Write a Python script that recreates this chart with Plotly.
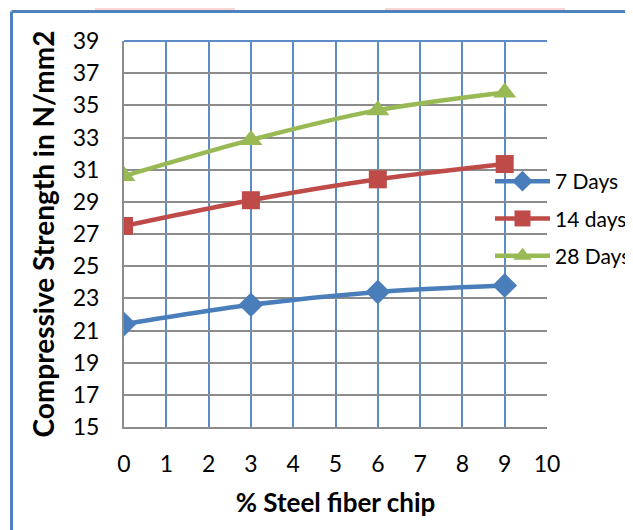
import plotly.graph_objects as go

x_vals = [0, 3, 6, 9]
days7 = [21.4, 22.6, 23.4, 23.8]
days14 = [27.5, 29.1, 30.4, 31.35]
days28 = [30.6, 32.85, 34.7, 35.8]
series_names = ["7 Days", "14 days", "28 Days"]
x_ticks = list(range(0, 11))
y_ticks = list(range(15, 40, 2))

FONT = "Lato, Carlito, Calibri, sans-serif"
OFF = 8  # page body margin offset of the figure in the screenshot
W, H = 633 - OFF, 530 - OFF
# plot area in screenshot pixels
L, R, T, B = 124, 547, 41, 427

def px(x):
    return (x - L) / (R - L)

def py(y):
    return (B - y) / (B - T)

fig = go.Figure()
styles = [
    (days7, "#4A7EBB", "diamond", 19),
    (days14, "#BE4B48", "square", 18),
    (days28, "#98B954", "triangle-up", 20),
]
for name, (vals, col, sym, sz) in zip(series_names, styles):
    fig.add_trace(go.Scatter(
        x=x_vals, y=vals, name=name, mode="lines+markers",
        line=dict(color=col, width=4.5, shape="spline", smoothing=0.8),
        marker=dict(symbol=sym, size=sz, color=col),
        legendgroup=name,
    ))

fig.update_layout(
    width=W, height=H,
    margin=dict(l=L - OFF, r=W - (R - OFF), t=T - OFF, b=H - (B - OFF),
                autoexpand=False),
    paper_bgcolor="white", plot_bgcolor="white",
    font=dict(family=FONT, size=23, color="black"),
    showlegend=True,
    legend=dict(x=px(490), y=py(161), xanchor="left", yanchor="top",
                bgcolor="rgba(0,0,0,0)", font=dict(size=21, family=FONT),
                itemwidth=55, tracegroupgap=7, traceorder="grouped"),
    xaxis=dict(range=[0, 10], tickvals=x_ticks, showgrid=True,
               gridcolor="#5B8CC8", gridwidth=1.5, showline=True,
               linecolor="#8C8C8C", linewidth=2, zeroline=False,
               ticks="", ticklabelstandoff=15, automargin=False,
               tickfont=dict(size=23, family=FONT),
               title=dict(text="<b>% Steel fiber chip</b>", standoff=18,
                          font=dict(size=26, family=FONT))),
    yaxis=dict(range=[15, 39], tickvals=y_ticks, showgrid=True,
               gridcolor="#8C8C8C", gridwidth=1.5, showline=True,
               linecolor="#8C8C8C", linewidth=2, zeroline=False,
               ticks="", ticklabelstandoff=18, automargin=False,
               tickfont=dict(size=23, family=FONT),
               title=dict(text="<b>Compressive Strength in N/mm2</b>", standoff=10,
                          font=dict(size=28, family=FONT))),
)

# plot area top border (blue)
fig.add_shape(type="line", xref="paper", yref="paper", x0=0, x1=1, y0=1, y1=1,
              line=dict(color="#5B8CC8", width=2))
# outer frame of the chart (blue)
fig.add_shape(type="line", xref="paper", yref="paper",
              x0=px(11.5), x1=px(700), y0=py(11.5), y1=py(11.5),
              line=dict(color="#4F81BD", width=3))
fig.add_shape(type="line", xref="paper", yref="paper",
              x0=px(11.5), x1=px(11.5), y0=py(11.5), y1=py(600),
              line=dict(color="#4F81BD", width=3))
# faint watermark tint at the very top
fig.add_shape(type="rect", xref="paper", yref="paper",
              x0=px(95), x1=px(235), y0=py(0), y1=py(10),
              fillcolor="rgba(240,120,110,0.3)", line=dict(width=0), layer="below")
fig.add_shape(type="rect", xref="paper", yref="paper",
              x0=px(385), x1=px(565), y0=py(0), y1=py(10),
              fillcolor="rgba(240,120,110,0.3)", line=dict(width=0), layer="below")

fig.write_html("out.html")
